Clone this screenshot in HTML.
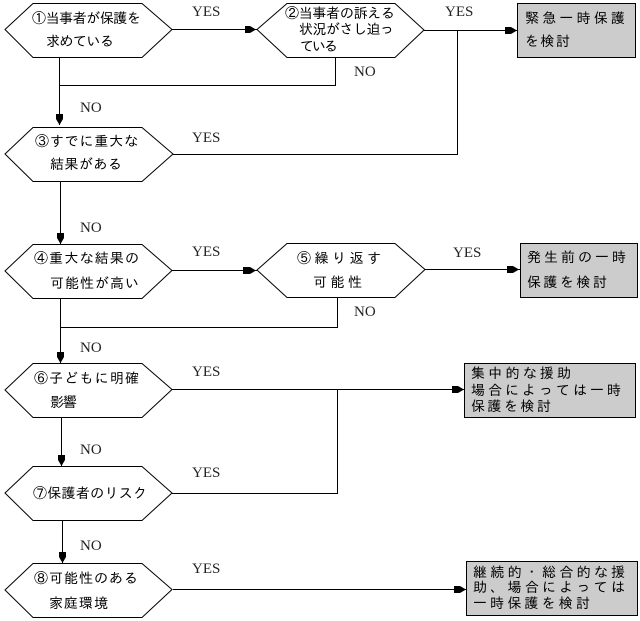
<!DOCTYPE html>
<html lang="ja">
<head>
<meta charset="utf-8">
<style>
html,body{margin:0;padding:0;background:#fff;width:640px;height:621px;overflow:hidden}
svg{display:block}
.s{fill:#fff;stroke:#000;stroke-width:1}
.b{fill:#ccc;stroke:#000;stroke-width:1}
.l{fill:none;stroke:#000;stroke-width:1;shape-rendering:crispEdges}
.t{font-family:"Liberation Sans","IPAGothic","Noto Sans CJK JP",sans-serif;font-size:14px;fill:#000}
.e{font-family:"Liberation Serif",serif;font-size:15px;fill:#222}
</style>
</head>
<body>
<svg width="640" height="621" viewBox="0 0 640 621" xmlns="http://www.w3.org/2000/svg">
<!-- connectors -->
<path class="l" d="M172 29.5H257M424 30.5H517M59.5 57V125M59.5 85.5H335.5V57M173 154.5H457.5V30"/>
<path class="l" d="M60.5 181V244M172 270.5H257M425 269.5H520M60.5 298V363M60.5 327.5H337.5V297"/>
<path class="l" d="M172 389.5H464M61.5 417V466M172 493.5H337.5V389M62.5 520V563M173 589.5H466"/>
<!-- arrowheads -->
<g fill="#000">
<polygon points="245,26 250,26 256,29.5 250,33 245,33"/>
<polygon points="505,27 511,27 517,30.5 511,34 505,34"/>
<polygon points="56,114 63,114 63,119 59.5,125 56,119"/>
<polygon points="57,233 64,233 64,238 60.5,244 57,238"/>
<polygon points="243,267 250,267 256,270.5 250,274 243,274"/>
<polygon points="507,266 513,266 519,269.5 513,273 507,273"/>
<polygon points="57,352 64,352 64,357 60.5,363 57,357"/>
<polygon points="452,386 458,386 464,389.5 458,393 452,393"/>
<polygon points="58,455 65,455 65,460 61.5,466 58,460"/>
<polygon points="59,552 66,552 66,557 62.5,563 59,557"/>
<polygon points="454,586 460,586 466,589.5 460,593 454,593"/>
</g>
<!-- hexagons -->
<polygon class="s" points="5,29.5 33,3.5 142,3.5 172,29.5 142,57.5 33,57.5"/>
<polygon class="s" points="257,29.5 287,3.5 395,3.5 424,30 395,57.5 287,57.5"/>
<polygon class="s" points="5,154 33,127.5 142,127.5 173,154 142,181.5 33,181.5"/>
<polygon class="s" points="5,271 33,244.5 142,244.5 172,270.5 142,298.5 33,298.5"/>
<polygon class="s" points="257,270 287,243.5 395,243.5 425,269.5 395,297.5 287,297.5"/>
<polygon class="s" points="5,390 33,363.5 142,363.5 172,389.5 142,417.5 33,417.5"/>
<polygon class="s" points="5,493 33,466.5 142,466.5 172,493 142,520.5 33,520.5"/>
<polygon class="s" points="5,590 33,563.5 142,563.5 172,589.5 142,617.5 33,617.5"/>
<!-- boxes -->
<rect class="b" x="517.5" y="3.5" width="118" height="54" shape-rendering="crispEdges"/>
<rect class="b" x="520.5" y="243.5" width="117" height="54" shape-rendering="crispEdges"/>
<rect class="b" x="464.5" y="363.5" width="171" height="54" shape-rendering="crispEdges"/>
<rect class="b" x="466.5" y="561.5" width="171" height="54" shape-rendering="crispEdges"/>
<!-- node text -->
<g class="t">
<text x="32" y="23" textLength="109">①当事者が保護を</text>
<text x="46" y="46" textLength="68">求めている</text>
<text x="285" y="18" textLength="110">②当事者の訴える</text>
<text x="299" y="34" textLength="95">状況がさし迫っ</text>
<text x="300" y="51" textLength="38">ている</text>
<text x="35" y="146" textLength="103">③すでに重大な</text>
<text x="50" y="169" textLength="72">結果がある</text>
<text x="34" y="263" textLength="105">④重大な結果の</text>
<text x="50" y="288" textLength="89">可能性が高い</text>
<text x="297" y="263" textLength="84">⑤繰り返す</text>
<text x="313" y="287" textLength="49">可能性</text>
<text x="34" y="383" textLength="105">⑥子どもに明確</text>
<text x="50" y="407" textLength="27">影響</text>
<text x="33" y="498" textLength="114">⑦保護者のリスク</text>
<text x="34" y="583" textLength="104">⑧可能性のある</text>
<text x="49" y="608" textLength="59">家庭環境</text>
<text x="525" y="23" textLength="100">緊急一時保護</text>
<text x="525" y="46" textLength="45">を検討</text>
<text x="527" y="262" textLength="99">発生前の一時</text>
<text x="527" y="287" textLength="80">保護を検討</text>
<text x="471" y="378" textLength="100">集中的な援助</text>
<text x="471" y="395" textLength="150">場合によっては一時</text>
<text x="471" y="411" textLength="80">保護を検討</text>
<text x="473" y="577" textLength="152">継続的・総合的な援</text>
<text x="473" y="592" textLength="152">助、場合によっては</text>
<text x="473" y="608" textLength="117">一時保護を検討</text>
</g>
<!-- YES / NO labels -->
<g class="e">
<text x="192" y="16">YES</text>
<text x="445" y="16">YES</text>
<text x="192" y="142">YES</text>
<text x="192" y="256">YES</text>
<text x="453" y="257">YES</text>
<text x="192" y="376">YES</text>
<text x="192" y="477">YES</text>
<text x="192" y="573">YES</text>
<text x="80" y="112">NO</text>
<text x="354" y="76">NO</text>
<text x="80" y="232">NO</text>
<text x="354" y="316">NO</text>
<text x="80" y="352">NO</text>
<text x="80" y="454">NO</text>
<text x="80" y="550">NO</text>
</g>
</svg>
</body>
</html>
